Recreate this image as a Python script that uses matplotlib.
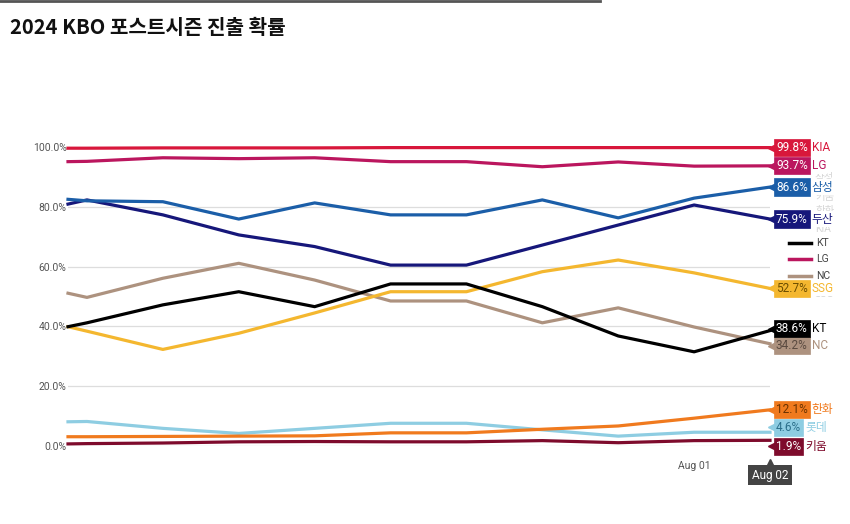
import numpy as np
import pandas as pd
import matplotlib
matplotlib.use("Agg")
import matplotlib.pyplot as plt
import matplotlib.transforms as mtransforms
from matplotlib.lines import Line2D

plt.rcParams['font.family'] = ['Roboto', 'Noto Sans CJK KR', 'DejaVu Sans']

# Data (probabilities in %)
dates = pd.to_datetime(['2024-07-23 18:00', '2024-07-24 00:00', '2024-07-25 00:00',
                        '2024-07-26 00:00', '2024-07-27 00:00', '2024-07-28 00:00',
                        '2024-07-29 00:00', '2024-07-30 00:00', '2024-07-31 00:00',
                        '2024-08-01 00:00', '2024-08-02 00:00'])
kia = [99.6, 99.6, 99.7, 99.7, 99.7, 99.8, 99.8, 99.8, 99.8, 99.8, 99.8]
lg = [95.1, 95.2, 96.4, 96.1, 96.4, 95.1, 95.1, 93.4, 95.0, 93.6, 93.7]
samsung = [82.5, 82.0, 81.7, 75.9, 81.3, 77.3, 77.3, 82.3, 76.3, 82.9, 86.6]
doosan = [80.9, 82.3, 77.3, 70.6, 66.7, 60.5, 60.5, 67.2, 73.9, 80.6, 75.9]
ssg = [39.9, 38.4, 32.3, 37.7, 44.5, 51.6, 51.6, 58.3, 62.2, 57.9, 52.7]
kt = [39.9, 41.2, 47.2, 51.6, 46.6, 54.2, 54.2, 46.6, 36.8, 31.5, 38.6]
nc = [51.1, 49.7, 56.1, 61.1, 55.5, 48.5, 48.5, 41.2, 46.2, 39.8, 34.2]
hanwha = [3.1, 3.1, 3.2, 3.3, 3.4, 4.4, 4.4, 5.6, 6.7, 9.3, 12.1]
lotte = [8.1, 8.2, 5.9, 4.2, 5.9, 7.6, 7.6, 5.4, 3.3, 4.6, 4.6]
kiwoom = [0.7, 0.8, 1.0, 1.4, 1.5, 1.4, 1.4, 1.8, 1.1, 1.8, 1.9]

# name, values, line colour, label text colour, label pixel nudge
teams = [
    ('키움', kiwoom, '#7e0b2c', 'white', -6),
    ('롯데', lotte, '#8ecde2', '#2b6f8a', 5),
    ('한화', hanwha, '#f07a1e', '#6a3200', 0),
    ('NC', nc, '#ad927f', '#5a4a40', -2),
    ('SSG', ssg, '#f4b72f', '#6b4d00', 0),
    ('KT', kt, '#000000', 'white', 2),
    ('두산', doosan, '#16177a', 'white', 0),
    ('삼성', samsung, '#1b5ea8', 'white', 0),
    ('LG', lg, '#bb165e', 'white', 0),
    ('KIA', kia, '#d8173b', 'white', 0),
]

fig = plt.figure(figsize=(8.5, 5.24), dpi=100)
ax = fig.add_axes([68 / 850, 1 - 446 / 524, 702 / 850, 299 / 524])
ax.patch.set_alpha(0)

for name, vals, col, tcol, dy in teams:
    ax.plot(dates, vals, color=col, lw=2.3, solid_joinstyle='round', clip_on=False)

ax.set_xlim(dates[0], dates[-1])
ax.set_ylim(0, 100)
ax.set_yticks([0, 20, 40, 60, 80, 100])
ax.set_yticklabels([f'{v:.1f}%' for v in [0, 20, 40, 60, 80, 100]])
ax.grid(axis='y', color='#dddddd', lw=0.9)
ax.set_axisbelow(True)
ax.tick_params(axis='y', length=0, pad=1, labelsize=7.5, labelcolor='#555555')
ax.set_xticks([dates[-2]])
ax.set_xticklabels(['Aug 01'])
ax.tick_params(axis='x', length=0, pad=11, labelsize=7.5, labelcolor='#555555')
for s in ax.spines.values():
    s.set_visible(False)


def px(x, y):
    return (x / 850, 1 - y / 524)


# faint legend partly hidden behind the end labels
for txt, y in [('삼성', 178), ('키움', 197), ('한화', 211), ('KIA', 229), ('SSG', 294)]:
    fig.text(*px(815, y), txt, fontsize=7.5, color='#bbbbbb', alpha=0.6, va='center', zorder=-1)
for txt, y, col in [('KT', 243, '#000000'), ('LG', 259, '#bb165e'), ('NC', 276, '#ad927f')]:
    fig.add_artist(Line2D([789 / 850, 811 / 850], [1 - y / 524] * 2, color=col, lw=2.5, zorder=-1))
    fig.text(*px(816, y), txt, fontsize=7.5, color='#444444', va='center', zorder=-1)

# end labels
fig.canvas.draw()
renderer = fig.canvas.get_renderer()
xend = ax.get_xlim()[1]
for name, vals, col, tcol, dy in teams:
    v = vals[-1]
    ax.plot([dates[-1]], [v], marker='<', ms=7, color=col, clip_on=False,
            transform=mtransforms.offset_copy(ax.transData, fig, x=3, y=dy, units='dots'))
    t = ax.text(dates[-1], v, f'{v:.1f}%', fontsize=8.5, color=tcol,
                va='center', ha='left', clip_on=False,
                transform=mtransforms.offset_copy(ax.transData, fig, x=6, y=dy, units='dots'),
                bbox=dict(boxstyle='square,pad=0.18', fc=col, ec=col, lw=0.5))
    fig.canvas.draw()
    bb = t.get_bbox_patch().get_window_extent(renderer)
    x0 = ax.transData.transform((xend, v))[0]
    nx = bb.x1 - x0 + 2
    ncol = '#000000' if name == 'KT' else col
    ax.text(dates[-1], v, name, fontsize=8.5, color=ncol, va='center', ha='left', clip_on=False,
            bbox=dict(boxstyle='square,pad=0.1', fc='white', ec='none'),
            transform=mtransforms.offset_copy(ax.transData, fig, x=nx, y=dy, units='dots'))

# current date marker
ax.annotate('Aug 02', xy=(dates[-1], 0), xycoords='data', xytext=(0, -21),
            textcoords='offset points', ha='center', va='center', fontsize=8.5, color='white',
            bbox=dict(boxstyle='square,pad=0.3', fc='#444444', ec='none'), annotation_clip=False)
ax.plot([dates[-1]], [0], marker='^', ms=6, color='#444444', clip_on=False,
        transform=mtransforms.offset_copy(ax.transData, fig, x=0, y=-17, units='dots'))

fig.add_artist(Line2D([0, 600 / 850], [1 - 1 / 524] * 2, color='#555555', lw=2))
fig.text(10 / 850, 1 - 27 / 524, '2024 KBO 포스트시즌 진출 확률', fontsize=14.5,
         fontweight='bold', color='#111111', va='center',
         family=['Noto Sans CJK KR', 'DejaVu Sans'])

fig.savefig('out.png', dpi=100, facecolor='white')
